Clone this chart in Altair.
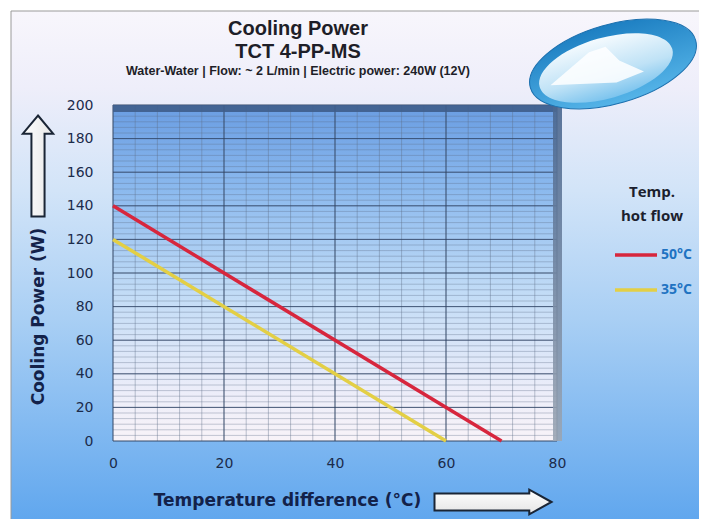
import altair as alt
import pandas as pd

# ---- data ----
series = ["50°C", "35°C"]
temp_diff_50 = [0, 70]
power_50 = [140, 0]
temp_diff_35 = [0, 60]
power_35 = [120, 0]
series_colors = ["#d7263d", "#e3cf45"]

x_ticks = [0, 20, 40, 60, 80]
y_ticks = [0, 20, 40, 60, 80, 100, 120, 140, 160, 180, 200]
x_minor = list(range(0, 81, 4))
y_minor = [round(i * 20 / 6, 3) for i in range(0, 61)]

W, H = 444, 336
PAD = {"left": 105, "top": 97, "right": 142, "bottom": 78}

lines_df = pd.DataFrame({
    "temp": temp_diff_50 + temp_diff_35,
    "power": power_50 + power_35,
    "series": [series[0]] * len(temp_diff_50) + [series[1]] * len(temp_diff_35),
})
one = pd.DataFrame({"a": [0]})

xscale = alt.Scale(domain=[0, 80], nice=False, zero=False)
yscale = alt.Scale(domain=[0, 200], nice=False)

xaxis = alt.Axis(
    values=x_ticks, grid=False, domain=False, ticks=False, zindex=2,
    labelFlush=False,
    labelFont="DejaVu Sans", labelFontSize=14, labelColor="#1b2b4b",
    labelPadding=15,
    title="Temperature difference (°C)", titleFont="DejaVu Sans",
    titleFontSize=17, titleFontWeight="bold", titleColor="#13224a",
    titleX=174, titleY=59, titleBaseline="middle", titleAlign="center",
)
yaxis = alt.Axis(
    values=y_ticks, grid=False, domain=False, ticks=False, zindex=2,
    labelFlush=False,
    labelFont="DejaVu Sans", labelFontSize=14, labelColor="#1b2b4b",
    labelPadding=20,
    title="Cooling Power (W)", titleFont="DejaVu Sans",
    titleFontSize=17, titleFontWeight="bold", titleColor="#13224a",
    titleX=-75, titleY=211, titleBaseline="middle", titleAlign="center",
)


def grad(stops, vertical=True):
    return alt.LinearGradient(
        gradient="linear",
        stops=[alt.GradientStop(color=c, offset=o) for o, c in stops],
        x1=0, x2=0 if vertical else 1, y1=0, y2=1 if vertical else 0,
    )


bg = alt.Chart(one).mark_rect(
    fill=grad([(0, "#f8f6fc"), (0.15, "#eeeefa"), (0.35, "#d2e4f8"),
               (0.6, "#a9cff4"), (1, "#5fa6ee")]),
    stroke="#9a9a9a", strokeWidth=1,
).encode(
    x=alt.value(-102), x2=alt.value(W + PAD["right"] + 5),
    y=alt.value(-94), y2=alt.value(H + PAD["bottom"] + 5),
)

plot_bg = alt.Chart(one).mark_rect(
    fill=grad([(0, "#6a9de2"), (0.25, "#8bb9ee"), (0.55, "#c0dbf6"),
               (0.85, "#ecedf9"), (1, "#f8f3f8")]),
).encode(x=alt.value(0), x2=alt.value(W), y=alt.value(0), y2=alt.value(H))

grid_xm = alt.Chart(pd.DataFrame({"temp": x_minor})).mark_rule(
    color="#5d6d88", strokeWidth=1, opacity=0.4
).encode(x=alt.X("temp:Q", scale=xscale, axis=xaxis))
grid_ym = alt.Chart(pd.DataFrame({"power": y_minor})).mark_rule(
    color="#5d6d88", strokeWidth=1, opacity=0.35
).encode(y=alt.Y("power:Q", scale=yscale, axis=yaxis))
grid_xM = alt.Chart(pd.DataFrame({"temp": x_ticks})).mark_rule(
    color="#2d4163", strokeWidth=1, opacity=0.8
).encode(x=alt.X("temp:Q", scale=xscale, axis=xaxis))
grid_yM = alt.Chart(pd.DataFrame({"power": y_ticks})).mark_rule(
    color="#2d4163", strokeWidth=1, opacity=0.8
).encode(y=alt.Y("power:Q", scale=yscale, axis=yaxis))

top_band = alt.Chart(one).mark_rect(fill="#3f5e8c", opacity=0.9).encode(
    x=alt.value(0), x2=alt.value(W), y=alt.value(0), y2=alt.value(7))
side_band = alt.Chart(one).mark_rect(
    fill=grad([(0, "#4a6790"), (1, "#9ba6b4")]), opacity=0.9
).encode(x=alt.value(W - 4), x2=alt.value(W + 5), y=alt.value(0), y2=alt.value(H))

lines = alt.Chart(lines_df).mark_line(strokeWidth=3.5).encode(
    x=alt.X("temp:Q", scale=xscale, axis=xaxis),
    y=alt.Y("power:Q", scale=yscale, axis=yaxis),
    color=alt.Color(
        "series:N",
        scale=alt.Scale(domain=series, range=series_colors),
        sort=series,
        legend=alt.Legend(
            orient="none", legendX=500, legendY=80,
            title=["Temp.", "hot flow"], titleFont="Open Sans",
            titleFontSize=15, titleFontWeight="bold", titleColor="#1c1f2e",
            titleAnchor="middle", titleAlign="center", titleLineHeight=24,
            titlePadding=8,
            labelFont="Open Sans", labelFontSize=14, labelFontWeight="bold",
            labelColor="#1f73c2", labelOffset=2,
            symbolType="stroke", symbolSize=1764, symbolStrokeWidth=3.5,
            rowPadding=5,
        ),
    ),
    detail="series:N",
)

up_arrow = alt.Chart(one).mark_point(
    shape="M0,-1 L0.3,-0.64 L0.13,-0.64 L0.13,1 L-0.13,1 L-0.13,-0.64 L-0.3,-0.64 Z",
    size=101 * 101, filled=True,
    fill=grad([(0, "#ffffff"), (1, "#e6e6e6")], vertical=False),
    stroke="#1a2535", strokeWidth=2, opacity=1,
).encode(x=alt.value(38 - 113), y=alt.value(166 - 105))

right_arrow = alt.Chart(one).mark_point(
    shape="M1,0 L0.62,-0.21 L0.62,-0.145 L-1,-0.145 L-1,0.145 L0.62,0.145 L0.62,0.21 Z",
    size=117 * 117, filled=True,
    fill=grad([(0, "#ffffff"), (1, "#e4e4e4")]),
    stroke="#1a2535", strokeWidth=2, opacity=1,
).encode(x=alt.value(493 - 113), y=alt.value(502 - 105))

logo_outer = alt.Chart(one).mark_point(
    shape="M-1,0 A1,0.46 0 1,1 1,0 A1,0.46 0 1,1 -1,0 Z",
    size=172 * 172, filled=True, angle=344,
    fill=grad([(0, "#1d7fc2"), (1, "#55b4e8")]), stroke="#1a6fae",
    strokeWidth=1, opacity=1,
).encode(x=alt.value(613 - 113), y=alt.value(64 - 105))
logo_inner = alt.Chart(one).mark_point(
    shape="M-1,0 A1,0.44 0 1,1 1,0 A1,0.44 0 1,1 -1,0 Z",
    size=138 * 138, filled=True, angle=344,
    fill=grad([(0, "#f4fafe"), (0.6, "#bfe2f6"), (1, "#7cc4ee")]),
    opacity=1,
).encode(x=alt.value(606 - 113), y=alt.value(68 - 105))
logo_mtn = alt.Chart(one).mark_point(
    shape="M-0.9,0.35 L-0.2,-0.25 L0.1,-0.35 L0.35,-0.1 L0.8,0.1 L0.3,0.3 Z",
    size=110 * 110, filled=True, fill="#ffffff", opacity=0.85,
).encode(x=alt.value(600 - 113), y=alt.value(66 - 105))

chart = alt.layer(
    bg, plot_bg, grid_ym, grid_xm, grid_yM, grid_xM, top_band, side_band,
    lines, up_arrow, right_arrow, logo_outer, logo_inner, logo_mtn,
).properties(
    width=W, height=H,
    padding=PAD,
    autosize=alt.AutoSizeParams(type="none"),
    background="white",
    title=alt.TitleParams(
        text=["Cooling Power", "TCT 4-PP-MS"],
        subtitle="Water-Water | Flow: ~ 2 L/min | Electric  power: 240W  (12V)",
        anchor="middle", frame="group", dx=-37, offset=-67, zindex=3,
        font="Liberation Sans", fontSize=20, fontWeight="bold",
        color="#1e1e28", lineHeight=23,
        subtitleFont="Liberation Sans", subtitleFontSize=12.5,
        subtitleFontWeight="bold", subtitleColor="#1e1e28",
        subtitlePadding=3,
    ),
).configure_view(stroke=None)

chart.save("out.html", embed_options={"renderer": "svg", "actions": False})
